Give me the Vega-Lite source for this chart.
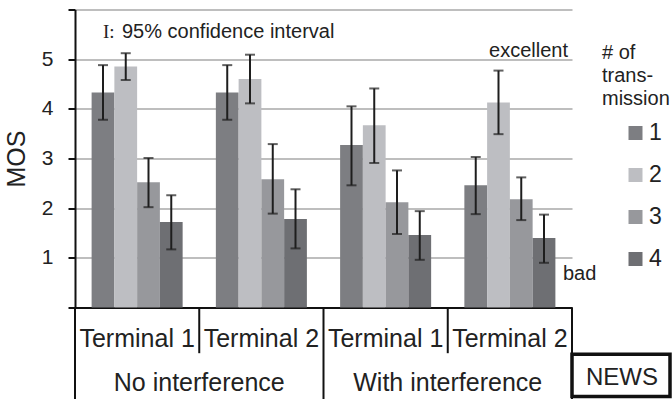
{
  "$schema": "https://vega.github.io/schema/vega-lite/v6.json",
  "width": 497,
  "height": 298,
  "autosize": {"type": "none"},
  "padding": {"left": 75, "top": 9.5, "right": 100, "bottom": 91.5},
  "config": {
    "font": "Liberation Sans",
    "view": {"stroke": null},
    "text": {"color": "#222222"}
  },
  "datasets": {
    "mos": [
      {"grp": "NI Terminal 1", "n": "1", "mos": 4.33, "lo": 3.78, "hi": 4.88},
      {"grp": "NI Terminal 1", "n": "2", "mos": 4.85, "lo": 4.58, "hi": 5.12},
      {"grp": "NI Terminal 1", "n": "3", "mos": 2.52, "lo": 2.02, "hi": 3.01},
      {"grp": "NI Terminal 1", "n": "4", "mos": 1.72, "lo": 1.17, "hi": 2.26},
      {"grp": "NI Terminal 2", "n": "1", "mos": 4.33, "lo": 3.78, "hi": 4.88},
      {"grp": "NI Terminal 2", "n": "2", "mos": 4.60, "lo": 4.11, "hi": 5.09},
      {"grp": "NI Terminal 2", "n": "3", "mos": 2.58, "lo": 1.89, "hi": 3.29},
      {"grp": "NI Terminal 2", "n": "4", "mos": 1.78, "lo": 1.19, "hi": 2.38},
      {"grp": "WI Terminal 1", "n": "1", "mos": 3.27, "lo": 2.46, "hi": 4.05},
      {"grp": "WI Terminal 1", "n": "2", "mos": 3.67, "lo": 2.91, "hi": 4.41},
      {"grp": "WI Terminal 1", "n": "3", "mos": 2.12, "lo": 1.48, "hi": 2.76},
      {"grp": "WI Terminal 1", "n": "4", "mos": 1.46, "lo": 0.96, "hi": 1.94},
      {"grp": "WI Terminal 2", "n": "1", "mos": 2.46, "lo": 1.88, "hi": 3.03},
      {"grp": "WI Terminal 2", "n": "2", "mos": 4.13, "lo": 3.49, "hi": 4.77},
      {"grp": "WI Terminal 2", "n": "3", "mos": 2.18, "lo": 1.76, "hi": 2.62},
      {"grp": "WI Terminal 2", "n": "4", "mos": 1.40, "lo": 0.90, "hi": 1.87}
    ],
    "cond": [
      {"grp": "NI Terminal 1", "label": "No interference"},
      {"grp": "WI Terminal 1", "label": "With interference"}
    ]
  },
  "layer": [
    {
      "data": {"name": "mos"},
      "mark": {"type": "bar"},
      "encoding": {
        "x": {
          "field": "grp", "type": "nominal",
          "scale": {"domain": ["NI Terminal 1", "NI Terminal 2", "WI Terminal 1", "WI Terminal 2"], "paddingInner": 0, "paddingOuter": 0},
          "axis": {
            "title": null, "ticks": false, "labelAngle": 0,
            "labelExpr": "slice(datum.label, 3)",
            "labelFontSize": 25, "labelColor": "#222222",
            "labelBaseline": "alphabetic", "labelPadding": 39,
            "domainColor": "#111111", "domainWidth": 2
          }
        },
        "xOffset": {"field": "n", "type": "nominal", "scale": {"paddingInner": 0, "paddingOuter": 0.73}},
        "y": {
          "field": "mos", "type": "quantitative",
          "scale": {"domain": [0, 6], "nice": false},
          "axis": {
            "title": "MOS", "titleFontSize": 25, "titleFontWeight": "normal", "titleColor": "#222222", "titlePadding": 12,
            "values": [0, 1, 2, 3, 4, 5, 6],
            "labelExpr": "datum.value >= 1 && datum.value <= 5 ? datum.label : ''",
            "labelFontSize": 21, "labelColor": "#222222", "labelPadding": 15,
            "tickSize": 7, "tickWidth": 2, "tickColor": "#111111",
            "domainColor": "#111111", "domainWidth": 2,
            "grid": true, "gridColor": "#a8a8a8", "gridWidth": 1.5
          }
        },
        "color": {
          "field": "n", "type": "nominal",
          "scale": {"domain": ["1", "2", "3", "4"], "range": ["#7d7e82", "#bdbec2", "#97989c", "#6e6f73"]},
          "legend": {
            "orient": "none", "legendX": 527, "legendY": 33, "padding": 0,
            "title": ["# of", "trans-", "mission"],
            "titleFontSize": 20, "titleFontWeight": "normal", "titleColor": "#222222", "titleLineHeight": 23, "titlePadding": 13, "titleAlign": "left",
            "symbolType": "square", "symbolSize": 196, "symbolStrokeWidth": 0, "symbolOffset": 22,
            "labelFontSize": 23, "labelColor": "#222222", "labelOffset": 2,
            "rowPadding": 18
          }
        }
      }
    },
    {
      "data": {"name": "mos"},
      "mark": {"type": "rule", "color": "#1e1e1e", "strokeWidth": 2},
      "encoding": {
        "x": {"field": "grp", "type": "nominal"},
        "xOffset": {"field": "n", "type": "nominal"},
        "y": {"field": "lo", "type": "quantitative"},
        "y2": {"field": "hi"}
      }
    },
    {
      "data": {"name": "mos"},
      "mark": {"type": "tick", "color": "#1e1e1e", "size": 10, "thickness": 2},
      "encoding": {
        "x": {"field": "grp", "type": "nominal"},
        "xOffset": {"field": "n", "type": "nominal"},
        "y": {"field": "lo", "type": "quantitative"}
      }
    },
    {
      "data": {"name": "mos"},
      "mark": {"type": "tick", "color": "#1e1e1e", "size": 10, "thickness": 2},
      "encoding": {
        "x": {"field": "grp", "type": "nominal"},
        "xOffset": {"field": "n", "type": "nominal"},
        "y": {"field": "hi", "type": "quantitative"}
      }
    },
    {
      "data": {"values": [{"grp": "NI Terminal 1"}, {"grp": "WI Terminal 1"}]},
      "mark": {"type": "rule", "color": "#111111", "strokeWidth": 2},
      "encoding": {
        "x": {"field": "grp", "type": "nominal", "bandPosition": 1},
        "y": {"datum": 0},
        "y2": {"datum": -0.92}
      }
    },
    {
      "data": {"values": [{"grp": "NI Terminal 1", "side": 0}]},
      "mark": {"type": "rule", "color": "#111111", "strokeWidth": 2},
      "encoding": {
        "x": {"field": "grp", "type": "nominal", "bandPosition": 0},
        "y": {"datum": 0},
        "y2": {"datum": -1.9}
      }
    },
    {
      "data": {"values": [{"grp": "NI Terminal 2"}]},
      "mark": {"type": "rule", "color": "#111111", "strokeWidth": 2},
      "encoding": {
        "x": {"field": "grp", "type": "nominal", "bandPosition": 1},
        "y": {"datum": 0},
        "y2": {"datum": -1.9}
      }
    },
    {
      "data": {"name": "cond"},
      "mark": {"type": "text", "fontSize": 25, "baseline": "alphabetic", "align": "center"},
      "encoding": {
        "x": {"field": "grp", "type": "nominal", "bandPosition": 1},
        "y": {"datum": -1.68},
        "text": {"field": "label"}
      }
    },
    {
      "data": {"values": [{"box": "NEWS"}]},
      "mark": {"type": "rect", "fill": "white", "stroke": "#111111", "strokeWidth": 3.5, "x2Offset": 98},
      "encoding": {
        "x": {"value": "width"},
        "x2": {"value": "width"},
        "y": {"datum": -0.94},
        "y2": {"datum": -1.79}
      }
    },
    {
      "data": {"values": [{"grp": "WI Terminal 2"}]},
      "mark": {"type": "rule", "color": "#111111", "strokeWidth": 2},
      "encoding": {
        "x": {"field": "grp", "type": "nominal", "bandPosition": 1},
        "y": {"datum": 0},
        "y2": {"datum": -1.9}
      }
    },
    {
      "data": {"values": [{"box": "NEWS"}]},
      "mark": {"type": "text", "fontSize": 24, "baseline": "alphabetic", "align": "center", "dx": 50},
      "encoding": {
        "x": {"value": "width"},
        "y": {"datum": -1.56},
        "text": {"field": "box"}
      }
    },
    {
      "data": {"values": [{"t": "I:"}]},
      "mark": {"type": "text", "font": "Liberation Serif", "fontSize": 19, "baseline": "alphabetic", "align": "left", "dx": 28},
      "encoding": {
        "x": {"value": 0},
        "y": {"datum": 5.43},
        "text": {"field": "t"}
      }
    },
    {
      "data": {"values": [{"t": "95% confidence interval"}]},
      "mark": {"type": "text", "fontSize": 20, "baseline": "alphabetic", "align": "left", "dx": 47},
      "encoding": {
        "x": {"value": 0},
        "y": {"datum": 5.43},
        "text": {"field": "t"}
      }
    },
    {
      "data": {"values": [{"t": "excellent"}]},
      "mark": {"type": "text", "fontSize": 20, "baseline": "alphabetic", "align": "right", "dx": -4},
      "encoding": {
        "x": {"value": "width"},
        "y": {"datum": 5.04},
        "text": {"field": "t"}
      }
    },
    {
      "data": {"values": [{"t": "bad"}]},
      "mark": {"type": "text", "fontSize": 20, "baseline": "alphabetic", "align": "left", "dx": -9},
      "encoding": {
        "x": {"value": "width"},
        "y": {"datum": 0.56},
        "text": {"field": "t"}
      }
    }
  ]
}
